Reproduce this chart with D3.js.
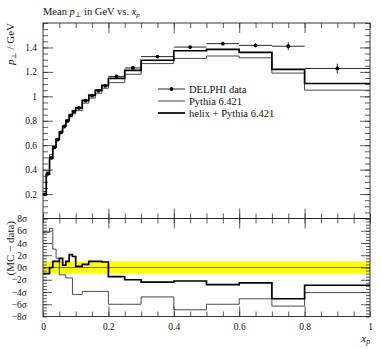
<!DOCTYPE html>
<html><head><meta charset="utf-8">
<script src="https://cdn.jsdelivr.net/npm/d3@7"></script>
<style>body{margin:0;background:#fff}svg{display:block}text{font-family:"Liberation Serif","DejaVu Serif",serif;fill:#111}</style>
</head><body><svg id="c" width="382" height="349"></svg>
<script>
const binEdges = [0,0.01,0.02,0.03,0.04,0.05,0.06,0.07,0.08,0.09,0.10,0.12,0.14,0.16,0.18,0.20,0.25,0.30,0.40,0.50,0.60,0.70,0.80,1.0];
const dataVals = [0.198,0.366,0.496,0.582,0.645,0.704,0.753,0.799,0.842,0.875,0.905,0.964,1.005,1.045,1.086,1.163,1.232,1.325,1.403,1.431,1.417,1.410,1.228];
const dataErr  = [0.004,0.004,0.004,0.004,0.004,0.004,0.004,0.004,0.004,0.004,0.005,0.005,0.005,0.005,0.005,0.006,0.007,0.008,0.010,0.010,0.015,0.032,0.040];
const pythiaVals = [0.221,0.389,0.522,0.594,0.651,0.699,0.748,0.792,0.835,0.857,0.883,0.944,0.985,1.025,1.066,1.112,1.180,1.268,1.310,1.330,1.315,1.190,1.050];
const helixVals  = [0.194,0.362,0.496,0.586,0.649,0.710,0.755,0.803,0.850,0.882,0.906,0.967,1.010,1.050,1.090,1.147,1.212,1.295,1.373,1.384,1.360,1.220,1.105];
const pythiaRatio = [5.7,5.7,6.4,3.0,1.5,-1.2,-1.2,-1.7,-1.7,-4.4,-4.4,-3.9,-3.9,-3.9,-3.9,-6.0,-6.0,-4.8,-6.9,-6.0,-5.1,-6.3,-4.1];
const helixRatio  = [-1.0,-1.0,0.0,1.0,1.0,1.5,0.4,1.0,2.1,1.8,0.2,0.5,1.0,1.0,0.9,-1.5,-2.0,-2.4,-2.2,-2.8,-2.5,-5.1,-2.9];
const mainTicks = [0.2,0.4,0.6,0.8,1.0,1.2,1.4];
const mainTickLabels = ["0.2","0.4","0.6","0.8","1","1.2","1.4"];
const ratioTicks = [8,6,4,2,0,-2,-4,-6,-8];
const ratioTickLabels = ["8σ","6σ","4σ","2σ","0σ","−2σ","−4σ","−6σ","−8σ"];
const xTicks = [0,0.2,0.4,0.6,0.8,1];
const xTickLabels = ["0","0.2","0.4","0.6","0.8","1"];
const legendLabels = ["DELPHI data","Pythia 6.421","helix + Pythia 6.421"];

const svg = d3.select("#c");
const L=43,R=370,T=23,MB=218.5,RB=316.5;
const x = d3.scaleLinear([0,1],[L,R]);
const y = d3.scaleLinear([0,1.6],[MB,T]);
const yr = d3.scaleLinear([-8,8],[RB,MB]);
const pyCol="#4a4a4a";

function stepPts(vals){const p=vals.map((v,i)=>[binEdges[i],v]);p.push([binEdges[vals.length],vals[vals.length-1]]);return p;}
const stepLine = ys => d3.line().x(d=>x(d[0])).y(d=>ys(d[1])).curve(d3.curveStepAfter);

// ratio band
svg.append("rect").attr("x",x(0)).attr("width",x(1)-x(0)).attr("y",yr(1)).attr("height",yr(-1)-yr(1)).attr("fill","#ffff00");
svg.append("line").attr("x1",x(0)).attr("x2",x(1)).attr("y1",yr(0)).attr("y2",yr(0)).attr("stroke","#555").attr("stroke-width",0.8);

function ticksFor(axisFn, scale, vals, size, tx, ty){
  const a = axisFn(scale).tickValues(vals).tickSize(size).tickFormat("");
  const g = svg.append("g").attr("transform",`translate(${tx},${ty})`).call(a);
  g.select(".domain").remove();
  g.selectAll("line").attr("stroke","#333").attr("stroke-width",0.8);
  return g;
}
const xMinor = d3.range(0,1.0001,0.05).map(v=>+v.toFixed(2));
const yMinor = d3.range(0,1.6001,0.05).map(v=>+v.toFixed(2));
const rMinor = d3.range(-8,8.001,0.5);
const xMajor=[0.2,0.4,0.6,0.8];
ticksFor(d3.axisTop,x,xMinor,-5,0,T); ticksFor(d3.axisTop,x,xMajor,-10,0,T);
ticksFor(d3.axisBottom,x,xMinor,-5,0,MB); ticksFor(d3.axisBottom,x,xMajor,-10,0,MB);
ticksFor(d3.axisLeft,y,yMinor,-5,L,0); ticksFor(d3.axisLeft,y,mainTicks,-10,L,0);
ticksFor(d3.axisRight,y,yMinor,-5,R,0); ticksFor(d3.axisRight,y,mainTicks,-10,R,0);
ticksFor(d3.axisTop,x,xMinor,-5,0,MB); ticksFor(d3.axisTop,x,xMajor,-10,0,MB);
ticksFor(d3.axisBottom,x,xMinor,-5,0,RB); ticksFor(d3.axisBottom,x,xMajor,-10,0,RB);
ticksFor(d3.axisLeft,yr,rMinor,-4,L,0); ticksFor(d3.axisLeft,yr,ratioTicks.slice(1,-1),-9,L,0);
ticksFor(d3.axisRight,yr,rMinor,-4,R,0); ticksFor(d3.axisRight,yr,ratioTicks.slice(1,-1),-9,R,0);

function styleLabels(g){g.select(".domain").remove(); g.selectAll("text").style("font-family",'"Liberation Serif",serif').style("font-size","9.5px").attr("fill","#111");}
styleLabels(svg.append("g").attr("transform",`translate(${L},0)`).call(d3.axisLeft(y).tickValues(mainTicks).tickSize(0).tickPadding(6).tickFormat((d,i)=>mainTickLabels[i])));
styleLabels(svg.append("g").attr("transform",`translate(${L},0)`).call(d3.axisLeft(yr).tickValues(ratioTicks).tickSize(0).tickPadding(16).tickFormat((d,i)=>ratioTickLabels[i])));
styleLabels(svg.append("g").attr("transform",`translate(0,${RB})`).call(d3.axisBottom(x).tickValues(xTicks).tickSize(0).tickPadding(7).tickFormat((d,i)=>xTickLabels[i])));

svg.append("clipPath").attr("id","cm").append("rect").attr("x",L).attr("y",T).attr("width",R-L).attr("height",MB-T);
svg.append("path").attr("d",stepLine(y)(stepPts(pythiaVals))).attr("fill","none").attr("stroke",pyCol).attr("stroke-width",1).attr("clip-path","url(#cm)");
svg.append("path").attr("d",stepLine(y)(stepPts(helixVals))).attr("fill","none").attr("stroke","#000").attr("stroke-width",1.7).attr("clip-path","url(#cm)");
const dg = svg.append("g");
dataVals.forEach((v,i)=>{
  const xc=(binEdges[i]+binEdges[i+1])/2;
  dg.append("line").attr("x1",x(binEdges[i])).attr("x2",x(binEdges[i+1])).attr("y1",y(v)).attr("y2",y(v)).attr("stroke","#111").attr("stroke-width",0.9);
  dg.append("line").attr("x1",x(xc)).attr("x2",x(xc)).attr("y1",y(v-dataErr[i])).attr("y2",y(v+dataErr[i])).attr("stroke","#111").attr("stroke-width",0.9);
  dg.append("circle").attr("cx",x(xc)).attr("cy",y(v)).attr("r",1.9).attr("fill","#000");
});
svg.append("path").attr("d",stepLine(yr)(stepPts(pythiaRatio))).attr("fill","none").attr("stroke",pyCol).attr("stroke-width",1);
svg.append("path").attr("d",stepLine(yr)(stepPts(helixRatio))).attr("fill","none").attr("stroke","#000").attr("stroke-width",1.7);

svg.append("rect").attr("x",L).attr("y",T).attr("width",R-L).attr("height",MB-T).attr("fill","none").attr("stroke","#222").attr("stroke-width",0.9);
svg.append("rect").attr("x",L).attr("y",MB).attr("width",R-L).attr("height",RB-MB).attr("fill","none").attr("stroke","#222").attr("stroke-width",0.9);

const lg = svg.append("g");
const ly=[89,101,113];
lg.append("line").attr("x1",158).attr("x2",185).attr("y1",ly[0]).attr("y2",ly[0]).attr("stroke","#111").attr("stroke-width",0.9);
lg.append("circle").attr("cx",171.5).attr("cy",ly[0]).attr("r",1.9).attr("fill","#000");
lg.append("line").attr("x1",158).attr("x2",185).attr("y1",ly[1]).attr("y2",ly[1]).attr("stroke",pyCol).attr("stroke-width",1);
lg.append("line").attr("x1",158).attr("x2",185).attr("y1",ly[2]).attr("y2",ly[2]).attr("stroke","#000").attr("stroke-width",1.7);
legendLabels.forEach((t,i)=>lg.append("text").attr("x",189).attr("y",ly[i]+3.5).attr("font-size","10.5px").text(t));

const title = svg.append("text").attr("x",43).attr("y",15).attr("font-size","10.5px");
title.append("tspan").text("Mean ");
title.append("tspan").attr("font-style","italic").text("p");
title.append("tspan").attr("font-size","7px").attr("dy",2).text("⊥");
title.append("tspan").attr("dy",-2).text(" in GeV vs. ");
title.append("tspan").attr("font-style","italic").text("x");
title.append("tspan").attr("font-size","7px").attr("font-style","italic").attr("dy",2).text("p");

const ylab = svg.append("text").attr("transform","translate(14,23) rotate(-90)").attr("text-anchor","end").attr("font-size","11px");
ylab.append("tspan").attr("font-style","italic").text("p");
ylab.append("tspan").attr("font-size","7.5px").attr("dy",2).text("⊥");
ylab.append("tspan").attr("dy",-2).text(" / GeV");

svg.append("text").attr("transform","translate(14,221) rotate(-90)").attr("text-anchor","end").attr("font-size","11px").text("(MC − data)");

const xlab = svg.append("text").attr("x",370).attr("y",342).attr("text-anchor","end").attr("font-size","11px");
xlab.append("tspan").attr("font-style","italic").text("x");
xlab.append("tspan").attr("font-size","7.5px").attr("font-style","italic").attr("dy",2).text("p");
</script></body></html>
